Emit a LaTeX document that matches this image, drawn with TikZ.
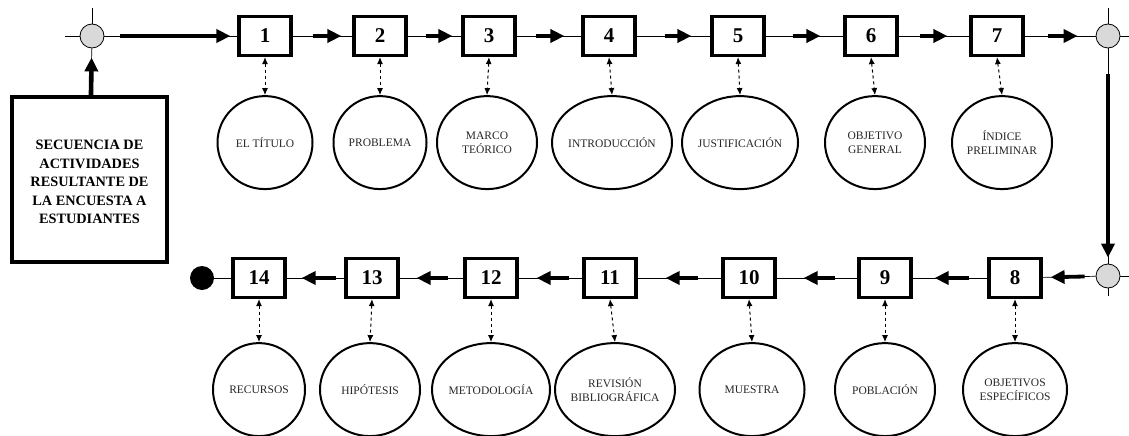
\documentclass[tikz,border=0pt]{standalone}
\usepackage{fontspec}
\setmainfont{Liberation Serif}
\usetikzlibrary{arrows.meta,shapes.geometric,positioning}
\definecolor{junctgray}{RGB}{217,217,217}
\tikzset{
  stepbox/.style={draw, line width=3.2pt, minimum width=52pt,
                  minimum height=39pt, inner sep=0pt,
                  font=\fontsize{21}{21}\selectfont\bfseries},
  topic/.style  ={draw, ellipse, line width=2pt, minimum width=#1,
                  minimum height=93pt, inner xsep=-8pt, inner ysep=0pt,
                  align=center, text=black!85,
                  font=\fontsize{11.5}{13.5}\selectfont},
  topic/.default=100pt,
  junct/.style  ={circle, draw, line width=0.8pt, fill=junctgray,
                  minimum size=24pt, inner sep=0pt},
  enddot/.style ={circle, fill=black, minimum size=24pt, inner sep=0pt},
  srcbox/.style ={draw, line width=3.4pt, minimum width=155pt,
                  minimum height=165pt, align=center,
                  font=\fontsize{14.3}{18.5}\selectfont\bfseries},
  wire/.style   ={line width=0.7pt},
  fatarr/.style ={-{Triangle[length=14pt, width=13pt]}, line width=3.8pt},
  link/.style   ={{Latex[length=7pt,width=6pt]}-{Latex[length=7pt,width=6pt]},
                  dashed, line width=1pt},
}
\begin{document}
\begin{tikzpicture}[x=1pt, y=-1pt]
  \useasboundingbox (0,0) rectangle (1129,436);

  % junctions and source box
  \node[junct] (jtl) at (92,36) {};
  \node[junct] (jtr) at (1108,36) {};
  \node[junct] (jbr) at (1108,276) {};
  \node[enddot] (fin) at (202,278) {};
  \node[srcbox] (src) at (89.5,179.5)
        {\\[-4pt]SECUENCIA DE\\ACTIVIDADES\\RESULTANTE DE\\LA ENCUESTA A\\ESTUDIANTES};

  \coordinate (jtlw) at (65,36);   \coordinate (jtln) at (92,8);
  \coordinate (jtrn) at (1108,8);  \coordinate (jtre) at (1129,36);
  \coordinate (jbre) at (1129,276); \coordinate (jbrs) at (1108,296);

  % top row
  \node[stepbox] (b1) at (265,36) {1};
  \node[stepbox] (b2) at (380,36) {2};
  \node[stepbox] (b3) at (489,36) {3};
  \node[stepbox] (b4) at (609,36) {4};
  \node[stepbox] (b5) at (738,36) {5};
  \node[stepbox] (b6) at (871,36) {6};
  \node[stepbox] (b7) at (997,36) {7};

  \node[topic=95pt,  below=38pt of b1] (e1) {EL TÍTULO};
  \node[topic=93pt,  below=38pt of b2] (e2) {PROBLEMA};
  \node[topic=100pt, below=38pt of b3, xshift=-2pt] (e3) {MARCO\\TEÓRICO};
  \node[topic=120pt, below=38pt of b4, xshift=3pt] (e4) {INTRODUCCIÓN};
  \node[topic=116pt, below=38pt of b5, xshift=2pt] (e5) {JUSTIFICACIÓN};
  \node[topic=100pt, below=38pt of b6, xshift=4pt] (e6) {OBJETIVO\\GENERAL};
  \node[topic=100pt, below=38pt of b7, xshift=5pt] (e7) {ÍNDICE\\PRELIMINAR};

  % bottom row
  \node[stepbox] (b8)  at (1015,278) {8};
  \node[stepbox] (b9)  at (885,278)  {9};
  \node[stepbox] (b10) at (749,278)  {10};
  \node[stepbox] (b11) at (610,278)  {11};
  \node[stepbox] (b12) at (491,278)  {12};
  \node[stepbox] (b13) at (372,278)  {13};
  \node[stepbox] (b14) at (259,278)  {14};

  \node[topic=104pt, below=43pt of b8]  (e8)  {OBJETIVOS\\ESPECÍFICOS};
  \node[topic=100pt, below=43pt of b9]  (e9)  {POBLACIÓN};
  \node[topic=105pt, below=43pt of b10, xshift=3pt] (e10) {MUESTRA};
  \node[topic=120pt, below=43pt of b11, xshift=5pt] (e11) {REVISIÓN\\BIBLIOGRÁFICA};
  \node[topic=118pt, below=43pt of b12] (e12) {METODOLOGÍA};
  \node[topic=100pt, below=43pt of b13, xshift=-2pt] (e13) {HIPÓTESIS};
  \node[topic=92pt,  below=43pt of b14] (e14) {RECURSOS};

  % cross stubs
  \draw[wire] (jtlw) -- (jtl); \draw[wire] (jtln) -- (jtl);
  \draw[wire] (jtrn) -- (jtr); \draw[wire] (jtre) -- (jtr);
  \draw[wire] (jbre) -- (jbr); \draw[wire] (jbrs) -- (jbr);

  % flow
  \draw[wire] (src) -- (jtl);
  \draw[fatarr, line width=4.6pt, shorten >=9pt] (src) -- (jtl);
  \draw[wire] (jtl) -- (b1);
  \draw[fatarr, line width=4.6pt, shorten <=16pt, shorten >=7pt] (jtl) -- (b1);
  \draw[wire] (jtr) -- (jbr);
  \draw[fatarr, line width=4.6pt, shorten <=26pt, shorten >=6pt] (jtr) -- (jbr);
  \foreach \a/\b/\s/\e in {b1/b2/20/11, b2/b3/18/9, b3/b4/19/17, b4/b5/28/19,
                           b5/b6/27/23, b6/b7/21/22, b7/jtr/23/18,
                           jbr/b8/11/8, b8/b9/18/22, b9/b10/22/27,
                           b10/b11/23/28, b11/b12/13/18, b12/b13/15/17,
                           b13/b14/8/15}{
    \draw[wire] (\a) -- (\b);
    \draw[fatarr, shorten <=\s pt, shorten >=\e pt] (\a) -- (\b);
  }
  \draw[wire] (b14) -- (fin);

  % links to topics
  \foreach \i in {1,...,14}
    \draw[link] (b\i.south) -- (e\i.north);
\end{tikzpicture}
\end{document}
